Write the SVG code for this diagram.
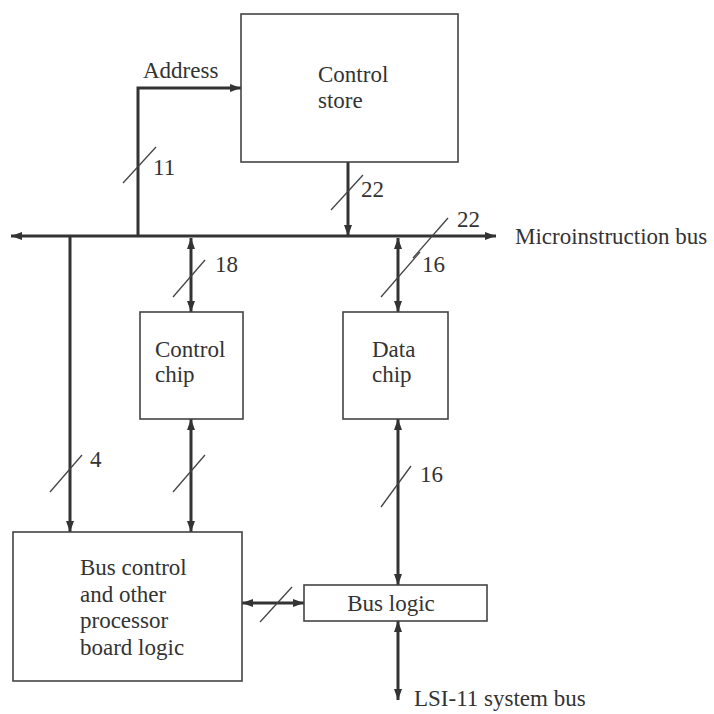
<svg xmlns="http://www.w3.org/2000/svg" width="714" height="714" viewBox="0 0 714 714">
<style>
.box{fill:#fff;stroke:#444;stroke-width:1.6}
.ln{fill:none;stroke:#333;stroke-width:3}
.sl{fill:none;stroke:#444;stroke-width:1.3}
text{font-family:"Liberation Serif","Times New Roman",serif;font-size:23px;fill:#333}
</style>
<defs>
<marker id="ah" markerUnits="userSpaceOnUse" markerWidth="11" markerHeight="8" refX="11" refY="4" orient="auto-start-reverse">
<path d="M0,0 L11,4 L0,8 z" fill="#333"/>
</marker>
</defs>
<rect width="714" height="714" fill="#fff"/>
<g id="connectors">
<line class="ln" x1="11" y1="236" x2="496" y2="236" marker-start="url(#ah)" marker-end="url(#ah)"/>
<path class="ln" d="M138,236 V88 H241" marker-end="url(#ah)"/>
<line class="ln" x1="348" y1="162" x2="348" y2="236" marker-end="url(#ah)"/>
<line class="ln" x1="70" y1="236" x2="70" y2="532" marker-end="url(#ah)"/>
<line class="ln" x1="191" y1="238" x2="191" y2="312" marker-start="url(#ah)" marker-end="url(#ah)"/>
<line class="ln" x1="191" y1="419" x2="191" y2="532" marker-start="url(#ah)" marker-end="url(#ah)"/>
<line class="ln" x1="398" y1="238" x2="398" y2="312" marker-start="url(#ah)" marker-end="url(#ah)"/>
<line class="ln" x1="398" y1="419" x2="398" y2="585" marker-start="url(#ah)" marker-end="url(#ah)"/>
<line class="ln" x1="242" y1="603" x2="304" y2="603" marker-start="url(#ah)" marker-end="url(#ah)"/>
<line class="ln" x1="398" y1="621" x2="398" y2="700" marker-start="url(#ah)" marker-end="url(#ah)"/>
<line class="sl" x1="123" y1="183" x2="156" y2="147"/>
<line class="sl" x1="331" y1="210" x2="363" y2="175"/>
<line class="sl" x1="413" y1="258" x2="448" y2="218"/>
<line class="sl" x1="173" y1="297" x2="205" y2="260"/>
<line class="sl" x1="381" y1="297" x2="420" y2="252"/>
<line class="sl" x1="50" y1="492" x2="82" y2="455"/>
<line class="sl" x1="173" y1="492" x2="205" y2="455"/>
<line class="sl" x1="381" y1="507" x2="411" y2="466"/>
<line class="sl" x1="260" y1="622" x2="292" y2="587"/>
<text x="143" y="78">Address</text>
<text x="153" y="175">11</text>
<text x="361" y="197">22</text>
<text x="457" y="227">22</text>
<text x="515" y="244">Microinstruction bus</text>
<text x="215" y="272">18</text>
<text x="422" y="272">16</text>
<text x="90" y="467">4</text>
<text x="420" y="482">16</text>
<text x="414" y="706">LSI-11 system bus</text>
</g>
<g id="control-store">
<rect class="box" x="241" y="14" width="217" height="148"/>
<text x="318" y="82">Control</text>
<text x="318" y="108">store</text>
</g>
<g id="control-chip">
<rect class="box" x="140" y="312" width="103" height="107"/>
<text x="155" y="357">Control</text>
<text x="155" y="382">chip</text>
</g>
<g id="data-chip">
<rect class="box" x="343" y="312" width="105" height="107"/>
<text x="372" y="357">Data</text>
<text x="372" y="382">chip</text>
</g>
<g id="bus-control">
<rect class="box" x="13" y="532" width="229" height="149"/>
<text x="80" y="575">Bus control</text>
<text x="80" y="602">and other</text>
<text x="80" y="628">processor</text>
<text x="80" y="655">board logic</text>
</g>
<g id="bus-logic">
<rect class="box" x="304" y="585" width="183" height="36"/>
<text x="391" y="611" text-anchor="middle">Bus logic</text>
</g>
</svg>
